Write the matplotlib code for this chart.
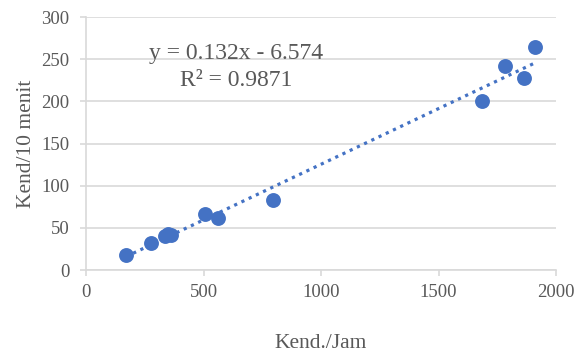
import numpy as np
import matplotlib.pyplot as plt

# data
kend_jam = [170, 277, 336, 349, 360, 508, 562, 794, 1684, 1784, 1864, 1911]
kend_10m = [18, 32, 40, 43, 41, 67, 62, 83, 200, 242, 228, 265]
slope, intercept = 0.132, -6.574
r2 = 0.9871

x_ticks = [0, 500, 1000, 1500, 2000]
y_ticks = [0, 50, 100, 150, 200, 250, 300]

blue = "#4472C4"
grid_grey = "#D9D9D9"
text_grey = "#595959"

plt.rcParams['font.family'] = ['Liberation Serif', 'DejaVu Serif']

fig = plt.figure(figsize=(5.86, 3.53), dpi=100)
ax = fig.add_axes([0.1468, 0.235, 0.802, 0.7167])

ax.scatter(kend_jam, kend_10m, s=115, color=blue, zorder=3, linewidths=0)

xt = np.array([min(kend_jam), max(kend_jam)])
ax.plot(xt, slope * xt + intercept, color=blue, linestyle=(0, (1, 1.5)),
        linewidth=2.3, zorder=2)

ax.set_xlim(0, 2000)
ax.set_ylim(0, 300)
ax.set_xticks(x_ticks)
ax.set_yticks(y_ticks)
ax.tick_params(labelsize=13.5, labelcolor=text_grey, length=4, color=grid_grey,
               width=1.2)
ax.tick_params(axis="y", pad=8)
ax.tick_params(axis="x", pad=6)
ax.yaxis.grid(True, color=grid_grey, linewidth=1.2)
ax.set_axisbelow(True)
for s in ["top", "right"]:
    ax.spines[s].set_visible(False)
for s in ["left", "bottom"]:
    ax.spines[s].set_color(grid_grey)
    ax.spines[s].set_linewidth(1.2)

ax.set_xlabel("Kend./Jam", fontsize=15.5, color=text_grey, labelpad=24)
ax.set_ylabel("Kend/10 menit", fontsize=15.5, color=text_grey, labelpad=4)

ax.text(638, 241, f"y = {slope}x - {abs(intercept)}\nR² = {r2}", fontsize=17,
        color=text_grey, ha="center", va="center", linespacing=1.35)

fig.savefig("out.png", dpi=100)
